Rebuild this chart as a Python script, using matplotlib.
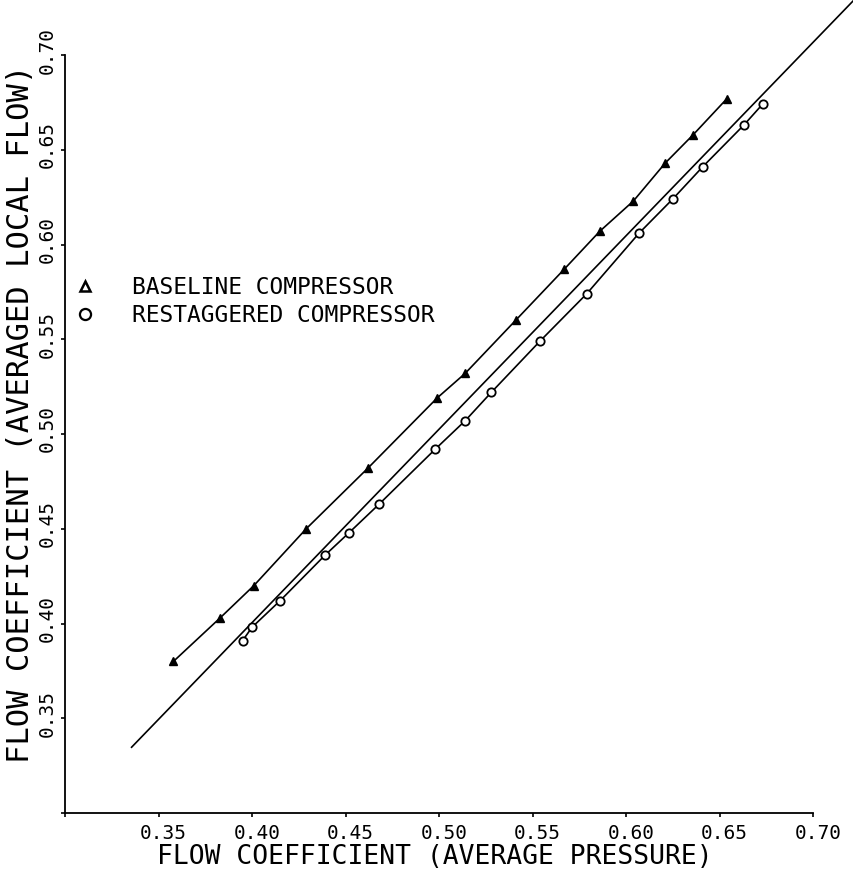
import matplotlib
matplotlib.use("Agg")
import matplotlib.pyplot as plt
import matplotlib.transforms as mtransforms
from matplotlib.lines import Line2D

# Baseline compressor (triangles)
baseline_x = [0.358, 0.383, 0.401, 0.429, 0.462, 0.499, 0.514, 0.541,
              0.567, 0.586, 0.604, 0.621, 0.636, 0.654]
baseline_y = [0.380, 0.403, 0.420, 0.450, 0.482, 0.519, 0.532, 0.560,
              0.587, 0.607, 0.623, 0.643, 0.658, 0.677]

# Restaggered compressor (circles)
restaggered_x = [0.395, 0.400, 0.415, 0.439, 0.452, 0.468, 0.498, 0.514,
                 0.528, 0.554, 0.579, 0.607, 0.625, 0.641, 0.663, 0.673]
restaggered_y = [0.391, 0.398, 0.412, 0.436, 0.448, 0.463, 0.492, 0.507,
                 0.522, 0.549, 0.574, 0.606, 0.624, 0.641, 0.663, 0.674]

# reference line as drawn on the plot (ends)
ideal_x = [0.3356, 0.7219]
ideal_y = [0.3347, 0.7290]

ticks = [0.30, 0.35, 0.40, 0.45, 0.50, 0.55, 0.60, 0.65, 0.70]
tick_labels = ["", "0.35", "0.40", "0.45", "0.50", "0.55", "0.60", "0.65", "0.70"]

plt.rcParams["font.family"] = ["DejaVu Sans Mono"]

fig = plt.figure(figsize=(8.54, 8.76), dpi=100)
ax = fig.add_axes([65/854, 63/876, 748/854, 758/876])

ax.plot(ideal_x, ideal_y, color="black", lw=1.2, clip_on=False)
ax.plot(baseline_x, baseline_y, color="black", lw=1.2, marker="^",
        ms=5.5, mfc="black", mec="black")
ax.plot(restaggered_x, restaggered_y, color="black", lw=1.2, marker="o",
        ms=6, mfc="white", mec="black", mew=1.3)

ax.set_xlim(0.30, 0.70)
ax.set_ylim(0.30, 0.70)
for side in ["top", "right"]:
    ax.spines[side].set_visible(False)
for side in ["left", "bottom"]:
    ax.spines[side].set_linewidth(1.3)

ax.set_xticks(ticks)
ax.set_xticklabels(tick_labels, fontsize=14)
ax.set_yticks(ticks)
ax.set_yticklabels(tick_labels, fontsize=14, rotation=90, va="center")
ax.tick_params(direction="out", length=3, width=1.2, pad=5)
ax.tick_params(axis="y", pad=3)

shift_x = mtransforms.ScaledTranslation(5/100, 0, fig.dpi_scale_trans)
shift_y = mtransforms.ScaledTranslation(0, 5/100, fig.dpi_scale_trans)
for label in ax.get_xticklabels():
    label.set_transform(label.get_transform() + shift_x)
for label in ax.get_yticklabels():
    label.set_transform(label.get_transform() + shift_y)

ax.set_xlabel("FLOW COEFFICIENT (AVERAGE PRESSURE)", fontsize=19, va="center")
ax.xaxis.set_label_coords(0.494, -0.058)
ax.set_ylabel("FLOW COEFFICIENT (AVERAGED LOCAL FLOW)", fontsize=22, va="center")
ax.yaxis.set_label_coords(-0.059, 0.526)

handles = [
    Line2D([], [], ls="none", marker="^", ms=7, mfc="white", mec="black", mew=1.8),
    Line2D([], [], ls="none", marker="o", ms=8, mfc="white", mec="black", mew=1.6),
]
ax.legend(handles, ["BASELINE COMPRESSOR", "RESTAGGERED COMPRESSOR"],
          loc="upper left", bbox_to_anchor=(0.0114, 0.708), frameon=False,
          fontsize=16.5, borderpad=0, borderaxespad=0, handlelength=1.0,
          handletextpad=1.55, labelspacing=0.2)

fig.savefig("out.png", dpi=100)
